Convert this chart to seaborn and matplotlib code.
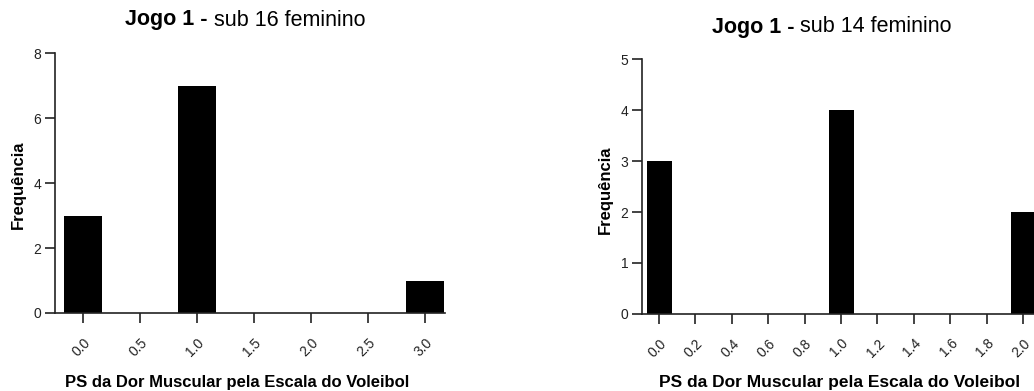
import numpy as np
import pandas as pd
import matplotlib
matplotlib.use("Agg")
import matplotlib.pyplot as plt
import seaborn as sns

sns.set_style("ticks")
plt.rcParams['font.family'] = ['Liberation Sans', 'DejaVu Sans']
plt.rcParams['text.color'] = 'black'

# --- data ---
scores_16 = [0.0, 1.0, 3.0]
freq_16 = [3, 7, 1]
ticks_16 = [0.0, 0.5, 1.0, 1.5, 2.0, 2.5, 3.0]

scores_14 = [0.0, 1.0, 2.0]
freq_14 = [3, 4, 2]
ticks_14 = [0.0, 0.2, 0.4, 0.6, 0.8, 1.0, 1.2, 1.4, 1.6, 1.8, 2.0]

title_bold = "Jogo 1 - "
titles = ["sub 16 feminino", "sub 14 feminino"]
xlabel = "PS da Dor Muscular pela Escala do Voleibol"
ylabel = "Frequência"

axcol = '#222222'

fig = plt.figure(figsize=(10.34, 3.91), dpi=100)
ax1 = fig.add_axes([0.0532, 0.1995, 0.430 - 0.0532, 0.864 - 0.1995])
ax2 = fig.add_axes([0.621, 0.197, 1.0 - 0.621, 0.849 - 0.197])


def draw(ax, scores, freq, ticks, width, xlim, ylim, yticks):
    df = pd.DataFrame({'score': scores, 'freq': freq})
    sns.barplot(data=df, x='score', y='freq', native_scale=True, color='black',
                width=width, linewidth=0, saturation=1, ax=ax)
    ax.set_xlim(*xlim)
    ax.set_ylim(*ylim)
    ax.set_xticks(ticks)
    ax.set_xticklabels([f"{t:.1f}" for t in ticks], rotation=45, ha='right',
                       rotation_mode='anchor', fontsize=10, color=axcol)
    ax.set_yticks(yticks)
    ax.set_yticklabels([str(t) for t in yticks], fontsize=10, color=axcol)
    ax.tick_params(direction='out', length=7, width=1.2, color=axcol, pad=3)
    ax.tick_params(axis='x', pad=9)
    for s in ['top', 'right']:
        ax.spines[s].set_visible(False)
    for s in ['left', 'bottom']:
        ax.spines[s].set_color(axcol)
        ax.spines[s].set_linewidth(1.2)
    ax.set_xlabel('')
    ax.set_ylabel('')


draw(ax1, scores_16, freq_16, ticks_16, 0.33, (-0.245, 3.17), (0, 8), [0, 2, 4, 6, 8])
draw(ax2, scores_14, freq_14, ticks_14, 0.137, (-0.093, 2.06), (0, 5), [0, 1, 2, 3, 4, 5])

# two-part titles: bold prefix + regular text, centred as a whole
renderer = fig.canvas.get_renderer()
W = 1034.0
for cx, cy, rest in [(245, 20, titles[0]), (832, 27, titles[1])]:
    t1 = fig.text(0, 1 - cy / 391, title_bold, ha='left', va='center', fontsize=15.5, weight='bold')
    t2 = fig.text(0, 1 - cy / 391, rest, ha='left', va='center', fontsize=15.5)
    w1 = t1.get_window_extent(renderer).width
    w2 = t2.get_window_extent(renderer).width
    x0 = cx - (w1 + w2) / 2
    t1.set_x(x0 / W)
    t2.set_x((x0 + w1) / W)

fig.text(237 / W, 1 - 382 / 391, xlabel, ha='center', va='center', fontsize=12, weight='bold')
fig.text(840 / W, 1 - 382 / 391, xlabel, ha='center', va='center', fontsize=12.5, weight='bold')

fig.text(18.5 / W, 1 - 185 / 391, ylabel, ha='center', va='center', rotation=90, fontsize=12, weight='bold')
fig.text(605 / W, 1 - 190 / 391, ylabel, ha='center', va='center', rotation=90, fontsize=12, weight='bold')

fig.savefig("out.png", dpi=100)
